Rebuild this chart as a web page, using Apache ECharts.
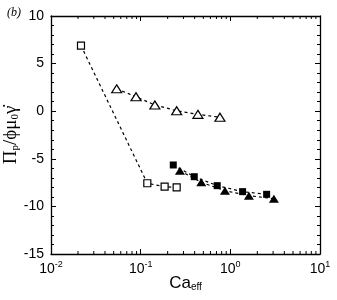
<!DOCTYPE html>
<html><head><meta charset="utf-8">
<script src="https://cdn.jsdelivr.net/npm/echarts@6/dist/echarts.min.js"></script>
<style>html,body{margin:0;padding:0;background:#fff}#c{width:337px;height:300px}</style>
</head><body><div id="c"></div>
<script>
// data
const openSqX = [0.0216, 0.1186, 0.185, 0.252];
const openSqY = [6.88, -7.57, -7.93, -8.0];
const openTriX = [0.054, 0.0887, 0.144, 0.252, 0.435, 0.766];
const openTriY = [2.35, 1.52, 0.65, 0.05, -0.33, -0.64];
const fillSqX = [0.231, 0.396, 0.714, 1.37, 2.54];
const fillSqY = [-5.65, -6.88, -7.82, -8.45, -8.73];
const fillTriX = [0.274, 0.474, 0.871, 1.61, 3.06];
const fillTriY = [-6.25, -7.47, -8.35, -8.87, -9.19];
const xMinorTicks = [0.02,0.03,0.04,0.05,0.06,0.07,0.08,0.09,0.2,0.3,0.4,0.5,0.6,0.7,0.8,0.9,2,3,4,5,6,7,8,9];
const yTicks = [-15, -10, -5, 0, 5, 10];

const zip = (a, b) => a.map((v, i) => [v, b[i]]);
const xMin = 0.01, xMax = 10, yMin = -15, yMax = 10;

const chart = echarts.init(document.getElementById('c'), null, {renderer: 'canvas'});
const axisLine = {show: true, onZero: false, lineStyle: {color: '#000', width: 1.3}};
const lineStyle = {color: '#000', width: 1.2, type: [3, 3]};

function xLabel(v) {
  const e = Math.round(Math.log10(v));
  return '{b|10}{s|' + e + '}';
}
const xRich = {
  b: {fontFamily: 'Liberation Sans', fontSize: 14, color: '#000', lineHeight: 16},
  s: {fontFamily: 'Liberation Sans', fontSize: 9, color: '#000', padding: [0, 0, 9, 0]}
};

chart.setOption({
  animation: false,
  title: {text: '(b)', left: 2, top: 2, textStyle: {fontFamily: 'Liberation Serif', fontStyle: 'italic', fontWeight: 'normal', fontSize: 12, color: '#000'}},
  grid: {left: 51, right: 17, top: 16, bottom: 46, containLabel: false, outerBoundsMode: 'none'},
  xAxis: [{
    type: 'log', logBase: 10, min: xMin, max: xMax, position: 'bottom',
    axisLine: axisLine,
    axisTick: {show: true, inside: true, length: 5, lineStyle: {color: '#000', width: 1}},
    axisLabel: {formatter: xLabel, rich: xRich, margin: 6},
    splitLine: {show: false},
    name: '{a|Ca}{s|eff}', nameLocation: 'middle', nameGap: 21, nameMoveOverlap: false,
    nameTextStyle: {rich: {
      a: {fontFamily: 'Liberation Sans', fontSize: 17, color: '#000'},
      s: {fontFamily: 'Liberation Sans', fontSize: 10, color: '#000', padding: [0, 0, -7, 0]}
    }}
  }, {
    type: 'log', logBase: 10, min: xMin, max: xMax, position: 'top',
    axisLine: axisLine,
    axisTick: {show: true, inside: true, length: 5, lineStyle: {color: '#000', width: 1}},
    axisLabel: {show: false}, splitLine: {show: false}
  }],
  yAxis: [{
    type: 'value', min: yMin, max: yMax, interval: 5, position: 'left',
    axisLine: axisLine,
    axisTick: {show: true, inside: true, length: 5, lineStyle: {color: '#000', width: 1}},
    minorTick: {show: true, splitNumber: 5, length: 3, lineStyle: {color: '#000', width: 1}},
    axisLabel: {fontFamily: 'Liberation Sans', fontSize: 14, color: '#000', margin: 7},
    splitLine: {show: false},
    name: '{a|Π}{s|p}{a|/ϕμ}{s|0}{a|γ̇}', nameLocation: 'middle', nameGap: 30, nameRotate: 90, nameMoveOverlap: false,
    nameTextStyle: {rich: {
      a: {fontFamily: 'Liberation Serif', fontSize: 19, color: '#000'},
      s: {fontFamily: 'Liberation Serif', fontSize: 11, color: '#000', padding: [0, 0, -7, 0]}
    }}
  }, {
    type: 'value', min: yMin, max: yMax, interval: 5, position: 'right',
    axisLine: axisLine,
    axisTick: {show: true, inside: true, length: 5, lineStyle: {color: '#000', width: 1}},
    minorTick: {show: true, splitNumber: 5, length: 3, lineStyle: {color: '#000', width: 1}},
    axisLabel: {show: false}, splitLine: {show: false}
  }],
  series: [
    {
      type: 'custom', xAxisIndex: 0, yAxisIndex: 0, silent: true, clip: false, z: 1,
      data: xMinorTicks,
      renderItem: function (params, api) {
        const v = api.value(0);
        const b = api.coord([v, yMin]);
        const t = api.coord([v, yMax]);
        return {type: 'group', children: [
          {type: 'line', shape: {x1: b[0], y1: b[1], x2: b[0], y2: b[1] - 3}, style: {stroke: '#000', lineWidth: 1}},
          {type: 'line', shape: {x1: t[0], y1: t[1], x2: t[0], y2: t[1] + 3}, style: {stroke: '#000', lineWidth: 1}}
        ]};
      }
    },
    {type: 'line', data: zip(openSqX, openSqY), symbol: 'rect', symbolSize: 7,
     itemStyle: {color: '#fff', borderColor: '#000', borderWidth: 1.2}, lineStyle: lineStyle, z: 3},
    {type: 'line', data: zip(openTriX, openTriY), symbol: 'triangle', symbolSize: [10, 8],
     itemStyle: {color: '#fff', borderColor: '#000', borderWidth: 1.2}, lineStyle: lineStyle, z: 3},
    {type: 'line', data: zip(fillSqX, fillSqY), symbol: 'rect', symbolSize: 7,
     itemStyle: {color: '#000', borderColor: '#000', borderWidth: 0}, lineStyle: lineStyle, z: 3},
    {type: 'line', data: zip(fillTriX, fillTriY), symbol: 'triangle', symbolSize: [10, 8],
     itemStyle: {color: '#000', borderColor: '#000', borderWidth: 0}, lineStyle: lineStyle, z: 3}
  ]
});
</script></body></html>
